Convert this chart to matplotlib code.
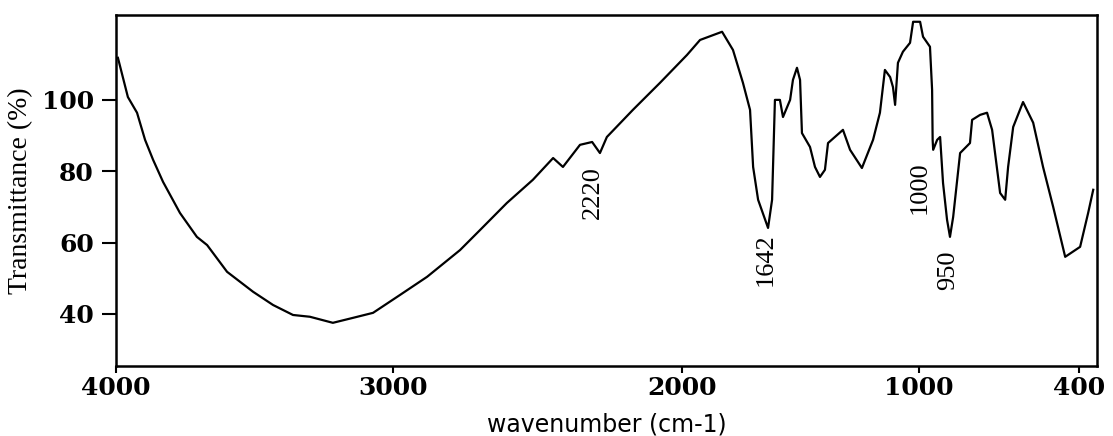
import numpy as np
import matplotlib.pyplot as plt

# -----------------------------
# Spectrum
# -----------------------------
wavenumber = [
    3993, 3957, 3924, 3895, 3866, 3830, 3769, 3708, 3671, 3599,
    3505, 3433, 3361, 3300, 3217, 3144, 3072,
    2976, 2882, 2768, 2699, 2606, 2516, 2446, 2412, 2353, 2311,
    2284, 2260, 2170, 2076,
    1979, 1924, 1831, 1785, 1743, 1713, 1700, 1679, 1637, 1620,
    1608, 1587, 1574, 1544, 1532, 1515, 1502, 1494, 1460, 1439,
    1418, 1397, 1384, 1321, 1291, 1241, 1194, 1165, 1144, 1122,
    1110, 1101, 1089, 1068, 1038, 1025,
    996, 985, 959, 951, 949, 947, 932, 921, 910, 895,
    884, 872, 846, 809, 801, 771, 745, 726, 696, 677,
    666, 647, 610, 572, 535, 497, 452, 396, 366, 347,
]
transmittance = [
    111.8, 100.8, 96.4, 88.8, 83.2, 77.0, 68.3, 61.6, 59.3, 51.8,
    46.2, 42.5, 39.7, 39.2, 37.5, 38.9, 40.3,
    45.3, 50.4, 57.9, 63.5, 71.1, 77.6, 83.7, 81.2, 87.4, 88.2,
    85.1, 89.6, 97.2, 104.8,
    112.6, 116.8, 119.1, 114.0, 104.8, 97.2, 81.2, 72.0, 64.1, 72.0,
    100.0, 100.0, 95.2, 100.0, 105.6, 109.0, 105.6, 90.7, 86.8, 81.2,
    78.4, 80.4, 87.9, 91.6, 86.0, 80.9, 88.8, 96.4, 108.4, 106.4,
    103.6, 98.6, 110.4, 113.5, 116.0, 121.9,
    121.9, 117.7, 114.9, 102.8, 88.8, 86.0, 88.8, 89.6, 76.7, 66.4,
    61.6, 67.2, 85.1, 87.9, 94.4, 95.8, 96.4, 91.6, 73.9, 72.0,
    81.2, 92.4, 99.4, 93.6, 81.2, 70.0, 56.0, 58.8, 68.3, 74.8,
]

peak_labels = ["2220", "1642", "1000", "950"]
peak_label_x = [2308, 1646, 996, 891]
peak_label_y = [73.9, 55.1, 75.3, 52.3]

x_ticks = [4000, 3000, 2000, 1000, 400]
y_ticks = [40, 60, 80, 100]

# -----------------------------
# piecewise x axis (the original is not linear)
# -----------------------------
SCALE_WN = np.array([0, 400, 1000, 2000, 3000, 4000, 5000])
SCALE_POS = -np.array([1186, 1079, 919, 682, 393, 116, -161], dtype=float)


def forward(x):
    return np.interp(x, SCALE_WN, SCALE_POS)


def inverse(u):
    return np.interp(u, SCALE_POS, SCALE_WN)


fig = plt.figure(figsize=(11.13, 4.36), dpi=100)
ax = fig.add_axes([0.1042, 0.1606, 0.8814, 0.805])

ax.set_xscale('function', functions=(forward, inverse))
ax.plot(wavenumber, transmittance, color='black', linewidth=1.6)

ax.set_xlim(4000, 333)
ax.set_ylim(25.4, 123.8)

ax.set_xticks(x_ticks)
ax.set_xticklabels([str(t) for t in x_ticks])
ax.set_yticks(y_ticks)
ax.set_yticklabels([str(t) for t in y_ticks])
ax.minorticks_off()

for lab in ax.get_xticklabels() + ax.get_yticklabels():
    lab.set_family('DejaVu Serif')
    lab.set_weight('bold')
    lab.set_fontsize(18)

ax.tick_params(axis='x', length=5, width=1.5, pad=2)
ax.tick_params(axis='y', length=10, width=1.5, pad=6)

for s in ax.spines.values():
    s.set_linewidth(1.8)

for lab, x, y in zip(peak_labels, peak_label_x, peak_label_y):
    ax.text(x, y, lab, rotation=90, ha='center', va='center',
            family='Liberation Serif', fontsize=19)

ax.set_ylabel('Transmittance (%)', family='Liberation Serif', fontsize=20,
              labelpad=6)
ax.set_xlabel('wavenumber (cm-1)', family='DejaVu Sans', fontsize=17,
              labelpad=9)

fig.savefig('out.png', dpi=100)
